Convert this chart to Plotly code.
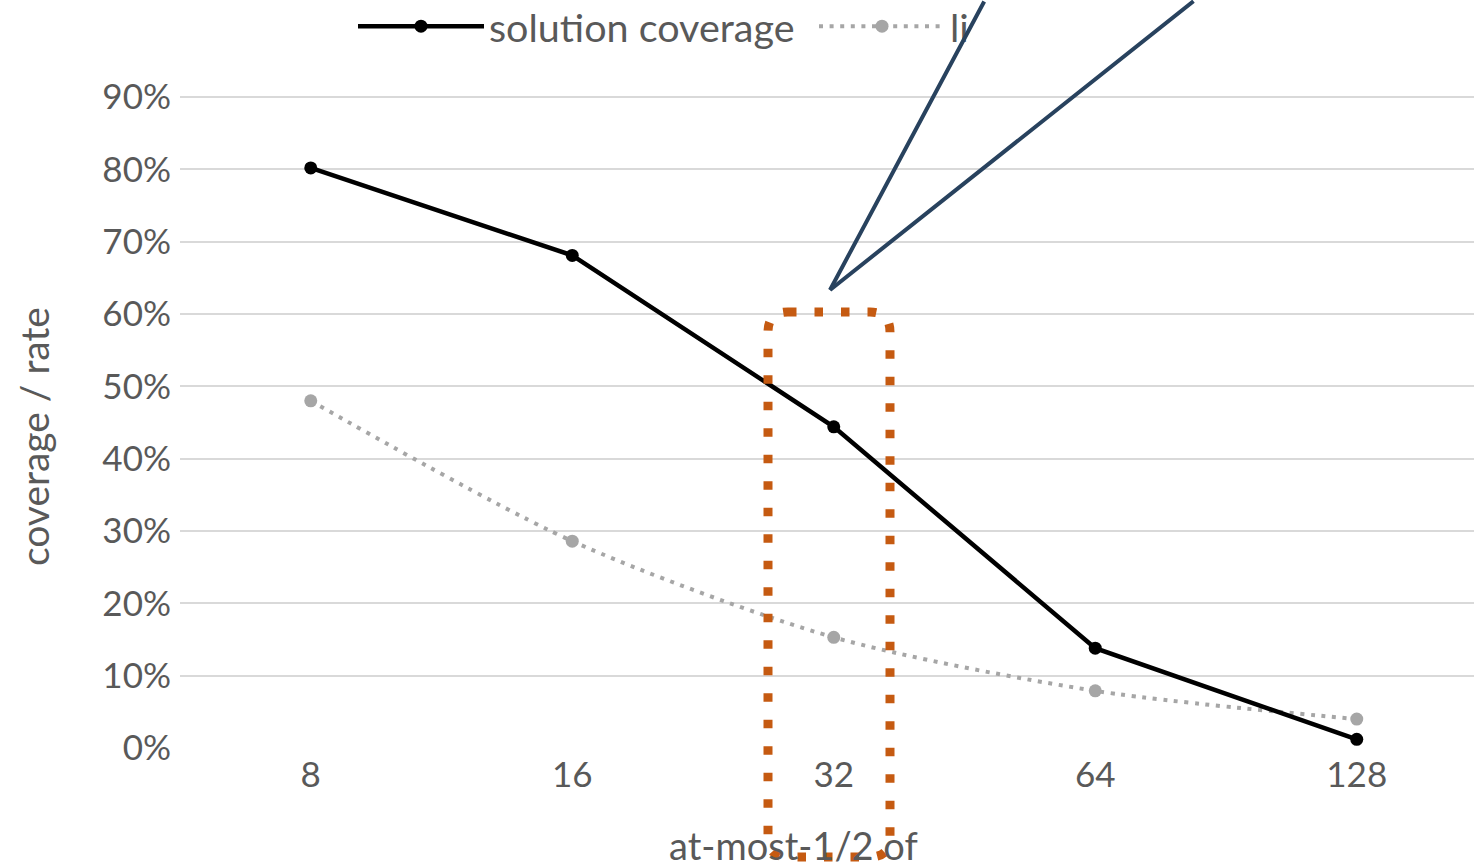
import plotly.graph_objects as go

# ---- data ----
budgets = ["8", "16", "32", "64", "128"]
solution_coverage = [0.802, 0.681, 0.444, 0.138, 0.012]
second_rate = [0.480, 0.286, 0.153, 0.079, 0.040]

series1_name = "solution coverage"
series2_name = "likely-correct rate"
x_title = "at-most-1/2 of"
y_title = "coverage / rate"
y_ticks = [0, 0.1, 0.2, 0.3, 0.4, 0.5, 0.6, 0.7, 0.8, 0.9]

# ---- layout geometry (pixels) ----
W, H = 1474, 867
ML, MR, MT, MB = 180, 0, 80, 119
PW = W - ML - MR
PH = H - MT - MB
CAT_PX = 261.5
Y_UNIT = 723.33  # px per 100%

def px_x(p):
    return (p - ML) / PW

def px_y(p):
    return (H - MB - p) / PH

TEXT = "#595959"
FONT = "Lato"

fig = go.Figure()
fig.add_trace(go.Scatter(
    x=budgets, y=second_rate, name=series2_name, mode="lines+markers",
    line=dict(color="#a6a6a6", width=4, dash="4px,6.6px", shape="spline", smoothing=0.8),
    marker=dict(color="#a6a6a6", size=13),
))
fig.add_trace(go.Scatter(
    x=budgets, y=solution_coverage, name=series1_name, mode="lines+markers",
    line=dict(color="#000000", width=4.5),
    marker=dict(color="#000000", size=13),
))

# orange dotted rounded rectangle around the 32 budget
L, R, T, B, r = 768, 890, 312, 857, 20
rx = r / PW
ry = r / PH
x0, x1 = px_x(L), px_x(R)
y0, y1 = px_y(B), px_y(T)
path = (f"M {x0+rx},{y1} L {x1-rx},{y1} Q {x1},{y1} {x1},{y1-ry} "
        f"L {x1},{y0+ry} Q {x1},{y0} {x1-rx},{y0} L {x0+rx},{y0} "
        f"Q {x0},{y0} {x0},{y0+ry} L {x0},{y1-ry} Q {x0},{y1} {x0+rx},{y1} Z")
fig.add_shape(type="path", path=path, xref="paper", yref="paper",
              line=dict(color="#c55a11", width=9, dash="8.5px,18px"), layer="above")

annotations = []
# white callout body (covers the top right corner)
annotations.append(dict(xref="paper", yref="paper", x=px_x(970), y=px_y(-2),
                        xanchor="left", yanchor="top", text="", showarrow=False,
                        width=330, height=62, bgcolor="white"))
# callout pointer edges
tipx, tipy = px_x(830), px_y(290)
for ax, ay in [(155, -292), (365, -292)]:
    annotations.append(dict(xref="paper", yref="paper", x=tipx, y=tipy, ax=ax, ay=ay,
                            text="", showarrow=True, arrowhead=0, arrowwidth=4,
                            arrowcolor="#28425e", standoff=0, startstandoff=0))
# axis titles
annotations.append(dict(xref="paper", yref="paper", x=px_x(793), y=px_y(845),
                        xanchor="center", yanchor="middle", text=x_title, showarrow=False,
                        font=dict(family=FONT, size=38, color=TEXT)))
annotations.append(dict(xref="paper", yref="paper", x=px_x(34), y=px_y(437),
                        xanchor="center", yanchor="middle", text=y_title, showarrow=False,
                        textangle=-90, font=dict(family=FONT, size=39, color=TEXT)))

fig.update_layout(
    width=W, height=H,
    margin=dict(l=ML, r=MR, t=MT, b=MB, pad=0, autoexpand=False),
    paper_bgcolor="white", plot_bgcolor="white",
    font=dict(family=FONT, size=35, color=TEXT),
    showlegend=True,
    legend=dict(orientation="h", x=px_x(353), y=px_y(-6), xanchor="left", yanchor="top",
                traceorder="reversed", itemwidth=126, entrywidth=320,
                font=dict(size=39.5, color=TEXT), bgcolor="rgba(0,0,0,0)"),
    annotations=annotations,
    xaxis=dict(type="category", range=[-0.5, -0.5 + PW / CAT_PX], showgrid=False,
               showline=False, zeroline=False, ticks="", ticklabelstandoff=3,
               tickfont=dict(size=35, color=TEXT), automargin=False),
    yaxis=dict(range=[0, PH / Y_UNIT], tickvals=y_ticks, tickformat=".0%",
               showgrid=True, gridcolor="#d9d9d9", gridwidth=2, zeroline=False,
               showline=False, ticks="", ticklabelstandoff=8,
               tickfont=dict(size=35, color=TEXT), automargin=False),
)

fig.write_html("out.html")
